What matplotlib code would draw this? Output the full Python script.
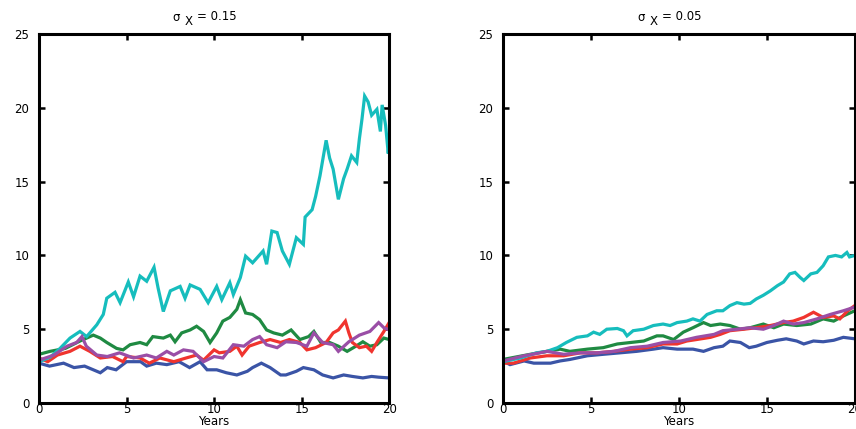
import numpy as np
import matplotlib
matplotlib.use("Agg")
import matplotlib.pyplot as plt

plt.rcParams['font.family'] = ['DejaVu Sans']

# couleurs des trajectoires
c_cyan = '#16bdbd'
c_green = '#1f8a42'
c_red = '#f0342e'
c_purple = '#9a4ea6'
c_blue = '#3a54a6'

# ---- panneau gauche : sigma_X = 0.15 ----
L_cyan_t = [0, 0.63, 1.2, 1.77, 2.34, 2.72, 3.3, 3.67, 3.87, 4.34, 4.63, 5.1, 5.4, 5.77, 6.15,
            6.57, 6.8, 7.1, 7.5, 8.06, 8.34, 8.63, 9.2, 9.66, 10.15, 10.44, 10.9, 11.1, 11.5,
            11.8, 12.2, 12.8, 13.0, 13.3, 13.6, 13.9, 14.3, 14.7, 15.1, 15.2, 15.6, 15.8,
            16.05, 16.4, 16.6, 16.8, 17.1, 17.4, 17.6, 17.85, 18.15, 18.3, 18.45, 18.6, 18.8,
            19.0, 19.3, 19.5, 19.6, 19.8, 19.95, 20.0]
L_cyan_v = [2.8, 3.1, 3.7, 4.4, 4.85, 4.5, 5.3, 6.0, 7.1, 7.5, 6.8, 8.2, 7.2, 8.6, 8.25,
            9.2, 7.8, 6.2, 7.6, 7.9, 7.1, 8.0, 7.7, 6.8, 7.9, 7.0, 8.15, 7.35, 8.5,
            9.95, 9.5, 10.3, 9.4, 11.65, 11.55, 10.3, 9.4, 11.2, 10.75, 12.6, 13.1, 14.0,
            15.4, 17.8, 16.6, 15.85, 13.8, 15.2, 15.85, 16.75, 16.3, 17.9, 19.25, 20.8, 20.4,
            19.5, 19.9, 18.4, 20.2, 18.8, 16.9, 17.8]

L_green_t = [0, 0.63, 1.5, 2.34, 3.1, 3.5, 3.87, 4.43, 4.8, 5.2, 5.77, 6.15, 6.5, 7.1, 7.5,
             7.77, 8.15, 8.63, 9.0, 9.4, 9.77, 10.15, 10.5, 10.9, 11.3, 11.5, 11.8, 12.2,
             12.6, 13.0, 13.4, 13.9, 14.4, 14.9, 15.4, 15.7, 16.1, 16.6, 17.1, 17.6, 18.1,
             18.5, 18.9, 19.3, 19.7, 20.0]
L_green_v = [3.3, 3.5, 3.7, 4.2, 4.6, 4.4, 4.1, 3.7, 3.6, 3.95, 4.1, 3.95, 4.5, 4.4, 4.6,
             4.15, 4.75, 4.95, 5.2, 4.85, 4.1, 4.75, 5.55, 5.8, 6.35, 7.0, 6.1, 6.0,
             5.65, 4.95, 4.75, 4.6, 4.95, 4.3, 4.5, 4.85, 4.1, 4.1, 3.85, 3.5, 3.85,
             4.15, 3.85, 3.95, 4.4, 4.3]

L_red_t = [0, 0.5, 1.05, 1.77, 2.34, 2.9, 3.5, 4.2, 4.8, 5.0, 5.77, 6.3, 6.9, 7.7, 8.4,
           9.0, 9.4, 10.0, 10.3, 10.9, 11.3, 11.6, 12.0, 12.6, 13.2, 13.8, 14.3, 14.9,
           15.3, 15.8, 16.4, 16.8, 17.1, 17.5, 17.7, 17.9, 18.3, 18.7, 19.0, 19.3, 19.7, 20.0]
L_red_v = [3.05, 2.8, 3.25, 3.5, 3.85, 3.5, 3.05, 3.15, 2.8, 3.15, 3.05, 2.7, 3.05, 2.8, 3.05,
           3.25, 2.9, 3.6, 3.4, 3.5, 3.85, 3.25, 3.85, 4.1, 4.3, 4.1, 4.3, 4.1,
           3.6, 3.75, 4.1, 4.75, 4.95, 5.55, 4.75, 4.1, 3.75, 3.85, 3.5, 4.1, 4.85, 5.45]

L_purple_t = [0, 0.85, 1.6, 2.15, 2.45, 2.7, 3.3, 3.9, 4.6, 5.4, 6.15, 6.7, 7.3, 7.7, 8.25,
              8.8, 9.4, 10.0, 10.5, 11.1, 11.7, 12.2, 12.6, 13.0, 13.6, 14.1, 14.7, 15.3,
              15.7, 16.2, 16.8, 17.1, 17.7, 18.3, 18.9, 19.4, 19.7, 20.0]
L_purple_v = [2.9, 3.25, 3.85, 4.1, 4.5, 3.85, 3.25, 3.15, 3.4, 3.05, 3.25, 3.05, 3.5, 3.25, 3.6,
              3.5, 2.8, 3.15, 3.05, 3.95, 3.85, 4.3, 4.5, 3.95, 3.75, 4.15, 4.1, 3.85,
              4.75, 4.1, 3.95, 3.5, 4.15, 4.6, 4.85, 5.45, 5.1, 4.95]

L_blue_t = [0, 0.6, 1.4, 2.0, 2.6, 3.1, 3.5, 3.9, 4.4, 5.0, 5.8, 6.15, 6.7, 7.3, 8.0,
            8.6, 9.2, 9.6, 10.15, 10.7, 11.3, 11.9, 12.2, 12.7, 13.2, 13.8, 14.1, 14.7,
            15.1, 15.7, 16.2, 16.8, 17.4, 17.9, 18.5, 19.0, 19.4, 20.0]
L_blue_v = [2.7, 2.5, 2.7, 2.4, 2.5, 2.25, 2.05, 2.4, 2.25, 2.8, 2.8, 2.5, 2.7, 2.6, 2.8,
            2.4, 2.8, 2.25, 2.25, 2.05, 1.9, 2.15, 2.4, 2.7, 2.4, 1.9, 1.9, 2.15,
            2.4, 2.25, 1.9, 1.7, 1.9, 1.8, 1.7, 1.8, 1.75, 1.7]

# ---- panneau droit : sigma_X = 0.05 ----
R_cyan_t = [0, 1.0, 1.9, 2.5, 3.1, 3.6, 4.2, 4.8, 5.15, 5.5, 5.9, 6.5, 6.85, 7.05, 7.4,
            8.0, 8.55, 9.1, 9.5, 9.9, 10.45, 10.8, 11.2, 11.6, 12.15, 12.5, 12.9, 13.3,
            13.7, 14.05, 14.4, 14.8, 15.2, 15.6, 15.95, 16.3, 16.6, 16.9, 17.1, 17.5,
            17.85, 18.2, 18.5, 18.9, 19.25, 19.55, 19.7, 20.0]
R_cyan_v = [2.8, 3.05, 3.4, 3.5, 3.75, 4.1, 4.45, 4.55, 4.8, 4.65, 5.0, 5.05, 4.9, 4.55, 4.9,
            5.0, 5.25, 5.35, 5.25, 5.45, 5.55, 5.7, 5.55, 6.0, 6.25, 6.25, 6.6, 6.8,
            6.7, 6.75, 7.05, 7.3, 7.6, 7.95, 8.2, 8.75, 8.85, 8.5, 8.3, 8.75,
            8.85, 9.3, 9.9, 10.0, 9.9, 10.2, 9.9, 10.0]

R_green_t = [0, 1.55, 2.5, 3.25, 3.8, 4.8, 5.7, 6.5, 7.25, 8.0, 8.75, 9.1, 9.7, 10.25, 10.8,
             11.4, 11.8, 12.35, 12.9, 13.5, 14.05, 14.8, 15.4, 15.95, 16.7, 17.5, 18.2,
             18.8, 19.35, 20.0]
R_green_v = [2.95, 3.3, 3.5, 3.65, 3.5, 3.65, 3.75, 4.0, 4.1, 4.2, 4.55, 4.55, 4.3, 4.8, 5.1,
             5.45, 5.25, 5.35, 5.25, 5.0, 5.1, 5.35, 5.1, 5.35, 5.25, 5.35, 5.7,
             5.55, 5.9, 6.25]

R_red_t = [0, 0.6, 1.55, 2.5, 3.45, 4.4, 5.35, 6.3, 7.25, 8.2, 9.1, 9.9, 10.45, 11.0, 11.8,
           12.35, 12.9, 13.7, 14.4, 15.2, 15.95, 16.5, 17.1, 17.65, 18.2, 18.8, 19.15,
           19.6, 20.0]
R_red_v = [2.7, 2.7, 3.05, 3.2, 3.2, 3.4, 3.4, 3.5, 3.65, 3.75, 4.0, 4.0, 4.2, 4.3, 4.45,
           4.65, 4.9, 5.0, 5.1, 5.25, 5.45, 5.55, 5.8, 6.15, 5.8, 5.9, 5.7,
           6.25, 6.6]

R_purple_t = [0, 1.2, 2.1, 2.5, 3.45, 4.4, 5.35, 6.3, 7.25, 8.2, 9.1, 10.1, 11.0, 12.0, 12.5,
              13.3, 14.05, 14.8, 15.4, 15.95, 16.5, 17.1, 17.85, 18.6, 19.35, 20.0]
R_purple_v = [2.85, 3.2, 3.4, 3.5, 3.3, 3.4, 3.4, 3.5, 3.75, 3.85, 4.1, 4.2, 4.45, 4.65, 4.9,
              5.0, 5.1, 5.0, 5.25, 5.55, 5.35, 5.45, 5.7, 6.0, 6.25, 6.5]

R_blue_t = [0, 0.4, 1.2, 1.75, 2.7, 3.25, 3.8, 4.8, 5.7, 6.65, 7.6, 8.55, 9.1, 9.9, 10.8,
            11.4, 12.0, 12.5, 12.9, 13.5, 14.0, 14.4, 15.0, 15.6, 16.1, 16.7, 17.1, 17.65,
            18.2, 18.8, 19.35, 20.0]
R_blue_v = [2.85, 2.6, 2.85, 2.7, 2.7, 2.85, 2.95, 3.2, 3.3, 3.4, 3.5, 3.65, 3.75, 3.65, 3.65,
            3.5, 3.75, 3.85, 4.2, 4.1, 3.75, 3.85, 4.1, 4.25, 4.35, 4.2, 4.0, 4.2,
            4.15, 4.25, 4.45, 4.35]

sigmas = ['0.15', '0.05']

panneaux = [
    [(L_blue_t, L_blue_v, c_blue), (L_green_t, L_green_v, c_green), (L_red_t, L_red_v, c_red),
     (L_cyan_t, L_cyan_v, c_cyan), (L_purple_t, L_purple_v, c_purple)],
    [(R_blue_t, R_blue_v, c_blue), (R_green_t, R_green_v, c_green), (R_red_t, R_red_v, c_red),
     (R_cyan_t, R_cyan_v, c_cyan), (R_purple_t, R_purple_v, c_purple)],
]

fig = plt.figure(figsize=(8.56, 4.29), dpi=100)
positions = [[0.0456, 0.0606, 0.409, 0.86], [0.5876, 0.0606, 0.411, 0.86]]

for pos, sig, courbes in zip(positions, sigmas, panneaux):
    ax = fig.add_axes(pos)
    for t, v, col in courbes:
        ax.plot(t, v, color=col, lw=2.3, solid_joinstyle='miter')
    ax.set_xlim(0, 20)
    ax.set_ylim(0, 25)
    ax.set_xticks([0, 5, 10, 15, 20])
    ax.set_yticks([0, 5, 10, 15, 20, 25])
    ax.tick_params(direction='in', top=True, right=True, length=4, width=1.8,
                   labelsize=8.5, pad=0)
    ax.tick_params(axis='y', pad=7)
    for s in ax.spines.values():
        s.set_linewidth(2.2)
    ax.set_xlabel('Years', fontsize=8.5, labelpad=-1)

    # titre facon Matlab : sigma, indice X, puis la valeur
    kw = dict(xy=(0.5, 1.0), xycoords='axes fraction', textcoords='offset points',
              ha='left', va='baseline', fontsize=8.5)
    ax.annotate('σ', xytext=(-30, 9.5), **kw)
    ax.annotate('X', xytext=(-21, 6.5), **kw)
    ax.annotate('= ' + sig, xytext=(-12, 10), **kw)

fig.savefig('out.png', dpi=100)
